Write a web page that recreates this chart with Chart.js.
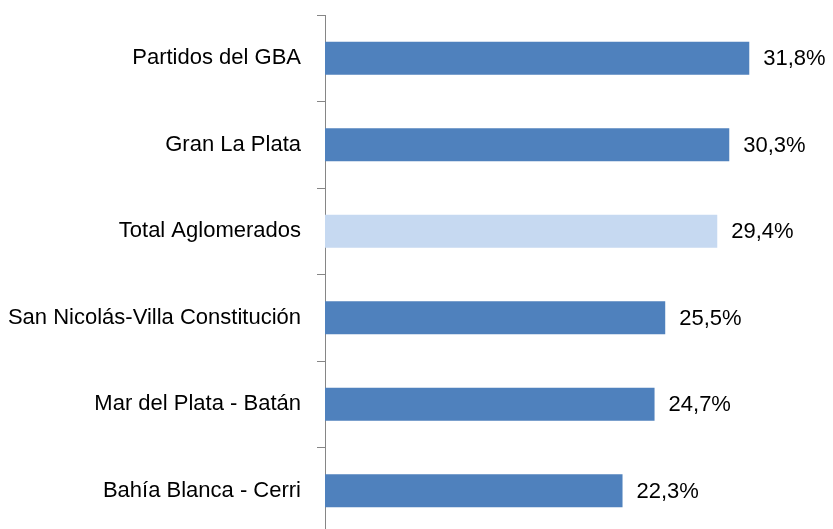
<!DOCTYPE html>
<html>
<head>
<meta charset="utf-8">
<script src="https://cdn.jsdelivr.net/npm/chart.js@4"></script>
<style>
    html, body { margin: 0; padding: 0; background: #fff; overflow: hidden; }
    #wrap { width: 833px; height: 535px; position: relative; }
</style>
</head>
<body>
<div id="wrap"><canvas id="barChart"></canvas></div>
<script>
// Chart data
const categories = [
    'Partidos del GBA',
    'Gran La Plata',
    'Total Aglomerados',
    'San Nicolás-Villa Constitución',
    'Mar del Plata - Batán',
    'Bahía Blanca - Cerri'
];
const values = [31.8, 30.3, 29.4, 25.5, 24.7, 22.3];
const highlighted = ['Total Aglomerados'];

const BLUE = '#4F81BD';
const LIGHT = '#C6D9F1';
const FONT = '"Liberation Sans", Arial, sans-serif';

// Draws "31,8%" style labels right of each bar
const valueLabels = {
    id: 'valueLabels',
    afterDatasetsDraw(chart) {
        const ctx = chart.ctx;
        const meta = chart.getDatasetMeta(0);
        ctx.save();
        ctx.font = '22px ' + FONT;
        ctx.fillStyle = '#000';
        ctx.textAlign = 'left';
        ctx.textBaseline = 'middle';
        meta.data.forEach((bar, i) => {
            const txt = values[i].toFixed(1).replace('.', ',') + '%';
            ctx.fillText(txt, bar.x + 14, bar.y + 1);
        });
        ctx.restore();
    }
};

new Chart(document.getElementById('barChart'), {
    type: 'bar',
    data: {
        labels: categories,
        datasets: [{
            data: values,
            backgroundColor: categories.map(c => highlighted.includes(c) ? LIGHT : BLUE),
            borderWidth: 0,
            categoryPercentage: 1,
            barPercentage: 0.38
        }]
    },
    options: {
        indexAxis: 'y',
        responsive: true,
        maintainAspectRatio: false,
        animation: false,
        layout: { padding: { top: 15, right: 1, bottom: 1, left: 0 } },
        plugins: { legend: { display: false }, tooltip: { enabled: false } },
        scales: {
            x: {
                display: false,
                min: 0,
                max: 38
            },
            y: {
                afterFit: (scale) => {
                    scale.width = 325;
                    scale.paddingTop = 0;
                    scale.paddingBottom = 0;
                },
                grid: {
                    drawOnChartArea: false,
                    tickLength: 8,
                    color: '#868686'
                },
                border: { color: '#868686', width: 1 },
                ticks: {
                    color: '#000',
                    padding: 16,
                    font: { family: FONT, size: 22 }
                }
            }
        }
    },
    plugins: [valueLabels]
});
</script>
</body>
</html>
